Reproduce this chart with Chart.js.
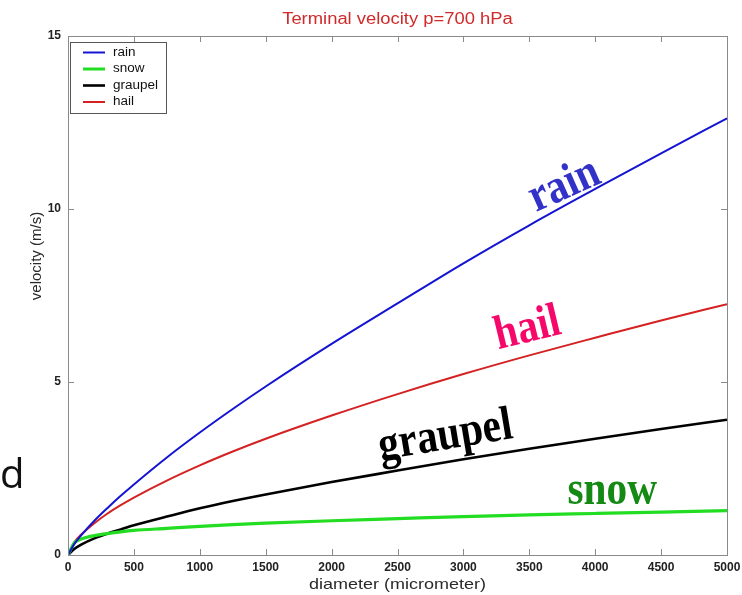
<!DOCTYPE html>
<html>
<head>
<meta charset="utf-8">
<script src="https://cdn.jsdelivr.net/npm/chart.js@4/dist/chart.umd.min.js"></script>
<style>
  html, body { margin: 0; padding: 0; background: #ffffff; }
  #wrap { width: 742px; height: 595px; }
</style>
</head>
<body>
<div id="wrap"><canvas id="c" width="742" height="595"></canvas></div>
<script>
// Particle diameter (micrometer)
const diameter = [0, 50, 100, 200, 300, 400, 500, 750, 1000, 1250, 1500, 2000, 2500, 3000, 3500, 4000, 4500, 5000];

// Terminal fall velocity (m/s) at p = 700 hPa
const rain    = [0, 0.33, 0.57, 0.99, 1.36, 1.71, 2.04, 2.82, 3.54, 4.22, 4.87, 6.10, 7.27, 8.43, 9.53, 10.58, 11.61, 12.62];
const snow    = [0, 0.36, 0.46, 0.56, 0.62, 0.67, 0.71, 0.77, 0.83, 0.88, 0.92, 0.99, 1.05, 1.11, 1.16, 1.20, 1.24, 1.28];
const graupel = [0, 0.18, 0.30, 0.48, 0.62, 0.74, 0.86, 1.11, 1.35, 1.56, 1.75, 2.11, 2.44, 2.77, 3.07, 3.36, 3.64, 3.91];
const hail    = [0, 0.38, 0.59, 0.92, 1.20, 1.44, 1.66, 2.15, 2.59, 2.99, 3.36, 4.03, 4.65, 5.23, 5.77, 6.28, 6.78, 7.25];

const seriesNames = ['rain', 'snow', 'graupel', 'hail'];
const xTickStep = 500;
const yTickStep = 5;

// In-plot labels: name, anchor (diameter, velocity) of baseline start, rotation in degrees
const curveLabels = [
  { text: 'rain',    at: [3550, 9.91], angle: -24,   color: '#3232c8' },
  { text: 'hail',    at: [3265, 5.95], angle: -13.6, color: '#f5086a' },
  { text: 'graupel', at: [2373, 2.74], angle: -9.5,  color: '#000000' },
  { text: 'snow',    at: [3790, 1.48], angle: 0,     color: '#148a14' }
];

const lineStyles = {
  rain:    { color: '#1414d2', width: 2 },
  snow:    { color: '#22dd22', width: 3.2 },
  graupel: { color: '#000000', width: 2.6 },
  hail:    { color: '#d42222', width: 2 }
};

const values = { rain, snow, graupel, hail };

function pts(arr) {
  return diameter.map((d, i) => ({ x: d, y: arr[i] }));
}

function drawText(ctx, text, x, y, opts) {
  ctx.save();
  ctx.translate(x, y);
  if (opts.angle) ctx.rotate(opts.angle * Math.PI / 180);
  ctx.scale(opts.sx || 1, 1);
  ctx.font = opts.font;
  ctx.fillStyle = opts.color || '#000';
  ctx.textAlign = opts.align || 'left';
  ctx.textBaseline = opts.baseline || 'alphabetic';
  ctx.fillText(text, 0, 0);
  ctx.restore();
}

const decor = {
  id: 'decor',
  beforeDraw(chart) {
    const ctx = chart.ctx;
    ctx.save();
    ctx.fillStyle = '#ffffff';
    ctx.fillRect(0, 0, chart.width, chart.height);
    ctx.restore();
  },
  afterDraw(chart) {
    const ctx = chart.ctx;
    const a = chart.chartArea;
    const xs = chart.scales.x, ys = chart.scales.y;
    const cx = (a.left + a.right) / 2;

    // axes box
    ctx.save();
    ctx.strokeStyle = '#8a8a8a';
    ctx.lineWidth = 1;
    ctx.strokeRect(Math.round(a.left) + 0.5, Math.round(a.top) + 0.5,
                   Math.round(a.right - a.left), Math.round(a.bottom - a.top));
    // inward tick marks on all four sides
    const tl = 6;
    ctx.beginPath();
    xs.ticks.forEach(t => {
      const px = Math.round(xs.getPixelForValue(t.value)) + 0.5;
      ctx.moveTo(px, a.bottom); ctx.lineTo(px, a.bottom - tl);
      ctx.moveTo(px, a.top);    ctx.lineTo(px, a.top + tl);
    });
    ys.ticks.forEach(t => {
      const py = Math.round(ys.getPixelForValue(t.value)) + 0.5;
      ctx.moveTo(a.left, py);  ctx.lineTo(a.left + tl, py);
      ctx.moveTo(a.right, py); ctx.lineTo(a.right - tl, py);
    });
    ctx.stroke();
    ctx.restore();

    // title and axis titles
    drawText(ctx, 'Terminal velocity p=700 hPa', cx, 24,
      { font: '16px "Liberation Sans", Arial, sans-serif', color: '#d02a2a', align: 'center', sx: 1.15 });
    drawText(ctx, 'diameter (micrometer)', cx, 589,
      { font: '15px "Liberation Sans", Arial, sans-serif', color: '#2a2a2a', align: 'center', sx: 1.2 });
    drawText(ctx, 'velocity (m/s)', 37, 256,
      { font: '15px "Liberation Sans", Arial, sans-serif', color: '#2a2a2a', align: 'center', baseline: 'middle', angle: -90 });

    // legend
    const lx = 70, ly = 42, lw = 96, lh = 71;
    ctx.save();
    ctx.fillStyle = '#ffffff';
    ctx.fillRect(lx, ly, lw, lh);
    ctx.strokeStyle = '#555555';
    ctx.lineWidth = 1;
    ctx.strokeRect(lx + 0.5, ly + 0.5, lw, lh);
    chart.data.datasets.forEach((ds, i) => {
      const y = ly + 10.5 + i * 16.5;
      ctx.beginPath();
      ctx.strokeStyle = ds.borderColor;
      ctx.lineWidth = Math.min(ds.borderWidth, 3);
      ctx.moveTo(lx + 13, y); ctx.lineTo(lx + 35, y);
      ctx.stroke();
      drawText(ctx, ds.label, lx + 43, y, { font: '12.5px "Liberation Sans", Arial, sans-serif', color: '#111', baseline: 'middle', sx: 1.08 });
    });
    ctx.restore();

    // curve labels placed in data coordinates
    curveLabels.forEach(l => {
      const px = xs.getPixelForValue(l.at[0]);
      const py = ys.getPixelForValue(l.at[1]);
      drawText(ctx, l.text, px, py,
        { font: 'bold 48px "Liberation Serif", "Times New Roman", serif', color: l.color, angle: l.angle, sx: 0.86 });
    });

    // panel letter
    drawText(ctx, 'd', 0, 488, { font: '40px "Open Sans", "DejaVu Sans", sans-serif', color: '#111' });
  }
};

const tickFont = { family: '"Liberation Sans", Arial, sans-serif', size: 12, weight: 'bold' };

new Chart(document.getElementById('c'), {
  type: 'line',
  data: {
    datasets: seriesNames.map(name => ({
      label: name,
      data: pts(values[name]),
      borderColor: lineStyles[name].color,
      borderWidth: lineStyles[name].width,
      pointRadius: 0,
      fill: false,
      cubicInterpolationMode: 'monotone'
    }))
  },
  options: {
    responsive: false,
    animation: false,
    devicePixelRatio: 1,
    layout: { padding: { top: 36, right: 15, left: 0, bottom: 0 } },
    plugins: { legend: { display: false }, title: { display: false }, tooltip: { enabled: false } },
    scales: {
      x: {
        type: 'linear', min: 0, max: 5000,
        grid: { display: false, drawTicks: false },
        border: { display: false },
        ticks: { stepSize: xTickStep, padding: 5, maxRotation: 0, autoSkip: false,
                 color: '#222', font: tickFont, callback: v => String(v) },
        afterFit(s) { s.height = 40; s.paddingLeft = 0; s.paddingRight = 0; }
      },
      y: {
        type: 'linear', min: 0, max: 15,
        grid: { display: false, drawTicks: false },
        border: { display: false },
        ticks: { stepSize: yTickStep, padding: 7,
                 color: '#222', font: tickFont, callback: v => String(v) },
        afterFit(s) { s.width = 68; s.paddingTop = 0; s.paddingBottom = 0; }
      }
    }
  },
  plugins: [decor]
});
</script>
</body>
</html>
